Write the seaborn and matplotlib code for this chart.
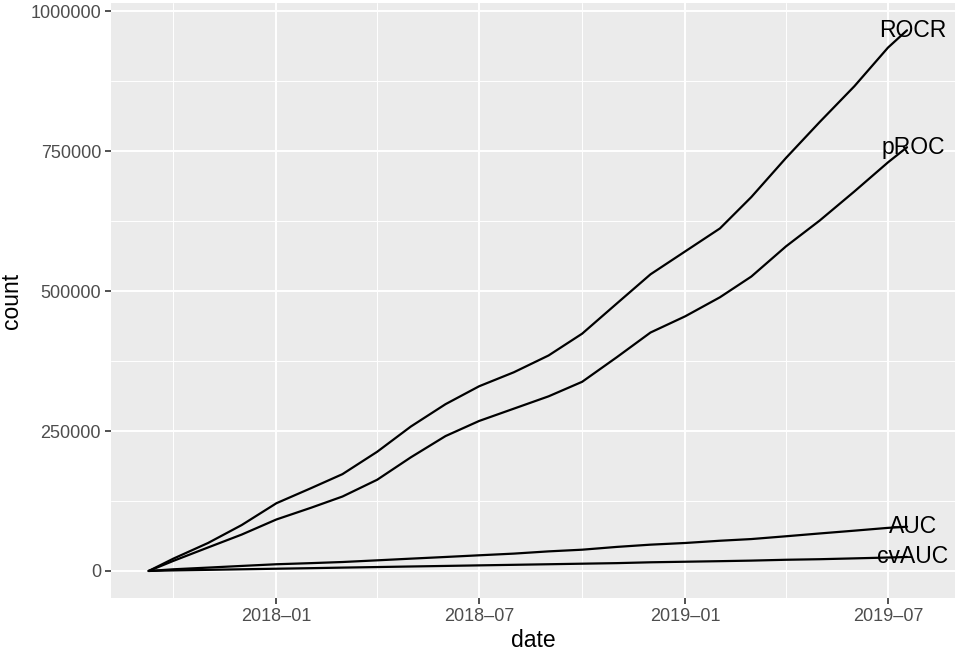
import numpy as np
import pandas as pd
import matplotlib
matplotlib.use("Agg")
import matplotlib.pyplot as plt
import matplotlib.dates as mdates
from matplotlib.transforms import offset_copy
import seaborn as sns

# monthly snapshots of cumulative downloads
dates = ["2017-09-09", "2017-10-01", "2017-11-01", "2017-12-01", "2018-01-01",
         "2018-02-01", "2018-03-01", "2018-04-01", "2018-05-01", "2018-06-01",
         "2018-07-01", "2018-08-01", "2018-09-01", "2018-10-01", "2018-11-01",
         "2018-12-01", "2019-01-01", "2019-02-01", "2019-03-01", "2019-04-01",
         "2019-05-01", "2019-06-01", "2019-07-01", "2019-07-18"]

rocr = [0, 22000, 50000, 82000, 121000, 148000, 173000, 213000, 258000, 298000,
        330000, 355000, 385000, 424000, 478000, 530000, 571000, 612000, 668000,
        738000, 802000, 866000, 935000, 966000]
proc = [0, 18000, 42000, 65000, 92000, 113000, 133000, 163000, 203000, 241000,
        268000, 290000, 312000, 338000, 382000, 426000, 455000, 489000, 526000,
        580000, 626000, 678000, 730000, 757000]
auc = [0, 3000, 6000, 9000, 12000, 14000, 16000, 19000, 22000, 25000,
       28000, 31000, 35000, 38000, 43000, 47000, 50000, 54000, 57000,
       62000, 67000, 72000, 77000, 79000]
cvauc = [0, 1000, 2000, 3000, 4000, 5000, 6000, 7000, 8000, 9000,
         10000, 11000, 12000, 13000, 14000, 15500, 16500, 17500, 18500,
         20000, 21000, 22500, 24000, 25000]

packages = ["ROCR", "pROC", "AUC", "cvAUC"]
series = [rocr, proc, auc, cvauc]

frames = []
for name, vals in zip(packages, series):
    frames.append(pd.DataFrame({"date": pd.to_datetime(dates), "count": vals, "package": name}))
df = pd.concat(frames, ignore_index=True)

sns.set_theme(style="darkgrid")
plt.rcParams["font.family"] = ["Liberation Sans", "DejaVu Sans"]

fig = plt.figure(figsize=(9.55, 6.5), dpi=100)
ax = fig.add_axes([0.116, 0.08, 0.884, 0.915])
ax.set_facecolor("#EBEBEB")

sns.lineplot(data=df, x="date", y="count", units="package", estimator=None,
             color="black", linewidth=1.6, ax=ax)

# labels sit a touch to the right of the line ends
lab_tr = offset_copy(ax.transData, fig=fig, x=6, y=0, units="dots")
last = df.groupby("package").tail(1)
for _, r in last.iterrows():
    ax.text(r["date"], r["count"], r["package"], ha="center", va="center",
            fontsize=16.5, color="black", transform=lab_tr)

# ggplot-like expansion, panel runs to the right edge
d0, d1 = mdates.date2num(df["date"].min()), mdates.date2num(df["date"].max())
pad = (d1 - d0) * 0.05
ax.set_xlim(d0 - pad, d1 + pad + 9)
ymax = df["count"].max()
ax.set_ylim(-0.05 * ymax, 1.05 * ymax)

ax.xaxis.set_major_locator(mdates.MonthLocator(bymonth=[1, 7]))
ax.xaxis.set_minor_locator(mdates.MonthLocator(bymonth=[4, 10]))
ax.xaxis.set_major_formatter(mdates.DateFormatter("%Y\u2013%m"))
ax.set_yticks([0, 250000, 500000, 750000, 1000000])
ax.set_yticks([125000, 375000, 625000, 875000], minor=True)
ax.set_yticklabels(["0", "250000", "500000", "750000", "1000000"])

ax.grid(which="major", color="white", linewidth=1.4)
ax.grid(which="minor", color="white", linewidth=0.7)
ax.set_axisbelow(True)
for s in ax.spines.values():
    s.set_visible(False)
ax.tick_params(which="major", length=4, width=1.2, color="#333333",
               labelsize=13, labelcolor="#4D4D4D", pad=3, bottom=True, left=True)
ax.tick_params(which="minor", length=0)

ax.set_xlabel("date", fontsize=16.5, color="black", labelpad=3)
ax.set_ylabel("count", fontsize=16.5, color="black", labelpad=5)

fig.savefig("out.png", dpi=100)
plt.close(fig)
